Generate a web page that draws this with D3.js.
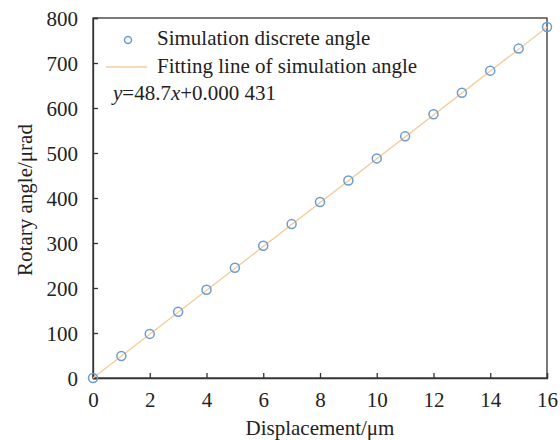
<!DOCTYPE html>
<html>
<head>
<meta charset="utf-8">
<script src="https://cdn.jsdelivr.net/npm/d3@7"></script>
<style>
  body { margin: 0; background: #fff; }
  text { font-family: "Liberation Serif", "Times New Roman", serif; fill: #222; }
</style>
</head>
<body>
<div id="chart"></div>
<script>
"use strict";

// displacement (um) and simulated rotary angle (urad)
var displacement = [0, 1, 2, 3, 4, 5, 6, 7, 8, 9, 10, 11, 12, 13, 14, 15, 16];
var angle = [0, 49, 98, 147, 196, 245, 294, 342, 391, 439, 488, 537, 586, 634, 683, 732, 780];
var fitSlope = 48.7;
var fitIntercept = 0.000431;
var xTicks = [0, 2, 4, 6, 8, 10, 12, 14, 16];
var yTicks = [0, 100, 200, 300, 400, 500, 600, 700, 800];

var FONT_SIZE = 21;
var margin = { top: 18, right: 13, bottom: 62, left: 93 };
var width = 560 - margin.left - margin.right;
var height = 440 - margin.top - margin.bottom;

var svg = d3.select("#chart")
    .append("svg")
    .attr("width", 560)
    .attr("height", 440);

var g = svg.append("g")
    .attr("transform", "translate(" + margin.left + "," + margin.top + ")");

var xScale = d3.scaleLinear().domain([0, 16]).range([0, width]);
var yScale = d3.scaleLinear().domain([0, 800]).range([height, 0]);

var axisColor = "#333";

// frame
g.append("rect")
    .attr("width", width)
    .attr("height", height)
    .attr("fill", "none")
    .attr("stroke", axisColor)
    .attr("stroke-width", 1.3);

var xAxis = d3.axisBottom(xScale).tickValues(xTicks).tickSize(-5).tickPadding(14);
var yAxis = d3.axisLeft(yScale).tickValues(yTicks).tickSize(-5).tickPadding(15);

var gx = g.append("g")
    .attr("transform", "translate(0," + height + ")")
    .call(xAxis);
var gy = g.append("g").call(yAxis);

[gx, gy].forEach(function(ax) {
    ax.select(".domain").attr("stroke", axisColor).attr("stroke-width", 1.3);
    ax.selectAll(".tick line").attr("stroke", axisColor).attr("stroke-width", 1.3);
    ax.selectAll(".tick text")
        .attr("font-family", "Liberation Serif")
        .attr("font-size", FONT_SIZE)
        .attr("fill", "#222");
});
gy.selectAll(".tick text").attr("dy", "0.34em");

// axis titles
svg.append("text")
    .attr("x", margin.left + width / 2)
    .attr("y", 435)
    .attr("text-anchor", "middle")
    .attr("font-size", FONT_SIZE)
    .text("Displacement/\u03bcm");

svg.append("text")
    .attr("transform", "translate(32," + (margin.top + height / 2 + 2) + ") rotate(-90)")
    .attr("text-anchor", "middle")
    .attr("font-size", FONT_SIZE)
    .text("Rotary angle/\u03bcrad");

// fitting line
var line = d3.line()
    .x(function(d) { return xScale(d); })
    .y(function(d) { return yScale(fitSlope * d + fitIntercept); });

g.append("path")
    .datum([displacement[0], displacement[displacement.length - 1]])
    .attr("d", line)
    .attr("fill", "none")
    .attr("stroke", "#f1cd9a")
    .attr("stroke-width", 1.3);

// simulation points
g.selectAll("circle.pt")
    .data(displacement)
    .enter()
    .append("circle")
    .attr("class", "pt")
    .attr("cx", function(d) { return xScale(d); })
    .attr("cy", function(d, i) { return yScale(angle[i]); })
    .attr("r", 4.5)
    .attr("fill", "none")
    .attr("stroke", "#6b9bd0")
    .attr("stroke-width", 1.5);

// legend
var legend = svg.append("g");
legend.append("circle")
    .attr("cx", 128).attr("cy", 40).attr("r", 3.5)
    .attr("fill", "none").attr("stroke", "#6b9bd0").attr("stroke-width", 1.5);
legend.append("text")
    .attr("x", 157).attr("y", 45)
    .attr("font-size", FONT_SIZE)
    .text("Simulation discrete angle");
legend.append("line")
    .attr("x1", 106).attr("x2", 147).attr("y1", 67).attr("y2", 67)
    .attr("stroke", "#f1cd9a").attr("stroke-width", 1.5);
legend.append("text")
    .attr("x", 157).attr("y", 73)
    .attr("font-size", FONT_SIZE)
    .text("Fitting line of simulation angle");

var eq = legend.append("text")
    .attr("x", 113).attr("y", 100)
    .attr("font-size", FONT_SIZE);
eq.append("tspan").attr("font-style", "italic").text("y");
eq.append("tspan").text("=48.7");
eq.append("tspan").attr("font-style", "italic").text("x");
eq.append("tspan").text("+0.000 431");
</script>
</body>
</html>
